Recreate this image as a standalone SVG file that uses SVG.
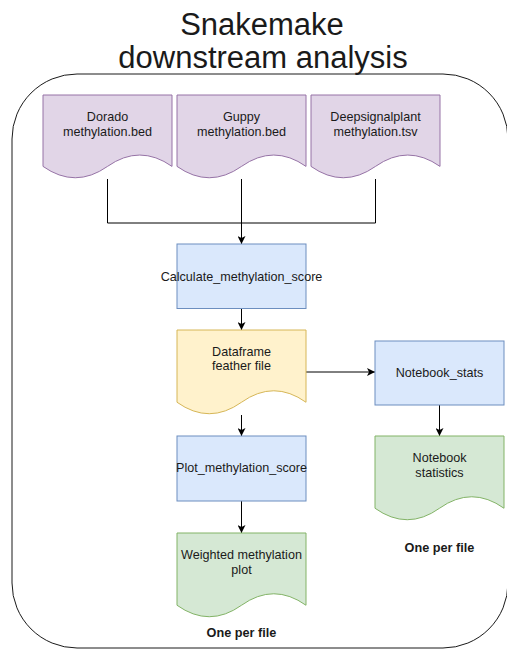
<svg xmlns="http://www.w3.org/2000/svg" width="507" height="650" viewBox="0 0 507 650">
<style>
text{font-family:"Liberation Sans",Arial,sans-serif;fill:#1a1a1a;text-anchor:middle}
.lbl{font-size:12.6px}
.bold{font-size:12.7px;font-weight:bold}
.title{font-size:31px}
.purple{fill:#e1d5e7;stroke:#9673a6;stroke-width:1}
.blue{fill:#dae8fc;stroke:#6c8ebf;stroke-width:1}
.yellow{fill:#fff2cc;stroke:#d6b656;stroke-width:1}
.green{fill:#d5e8d4;stroke:#82b366;stroke-width:1}
.edge{fill:none;stroke:#000;stroke-width:1}
.arr{marker-end:url(#ah)}
</style>
<defs>
<marker id="ah" viewBox="0 0 10 10" refX="10" refY="5" markerWidth="8" markerHeight="8" orient="auto" markerUnits="userSpaceOnUse">
<path d="M0,0 L10,5 L0,10 L2.5,5 Z" fill="#000"/>
</marker>
</defs>
<rect width="507" height="650" fill="#fff"/>
<g id="container">
<rect x="12" y="74" width="496" height="574" rx="65" ry="65" fill="none" stroke="#1a1a1a" stroke-width="1"/>
<text class="title" x="262" y="35">Snakemake</text>
<text class="title" x="263" y="68">downstream analysis</text>
</g>
<g id="connectors">
<path class="edge" d="M107.5,179 V223 H241.5 V244"/>
<path class="edge" d="M375.5,179 V223 H241.5 V244"/>
<path class="edge arr" d="M241.5,179 V244"/>
<path class="edge arr" d="M241.5,308.5 V330"/>
<path class="edge arr" d="M306,372 H375"/>
<path class="edge arr" d="M241.5,415 V436"/>
<path class="edge arr" d="M439.5,405 V436"/>
<path class="edge arr" d="M241.5,501 V533"/>
</g>
<g id="dorado">
<path class="purple" d="M43,95 H172 V166.4 Q139.75,143.7 107.5,166.4 Q75.25,189.1 43,166.4 Z"/>
<text class="lbl" x="107.5" y="120.5">Dorado</text>
<text class="lbl" x="107.5" y="135.5">methylation.bed</text>
</g>
<g id="guppy">
<path class="purple" d="M177,95 H306 V166.4 Q273.75,143.7 241.5,166.4 Q209.25,189.1 177,166.4 Z"/>
<text class="lbl" x="241.5" y="120.5">Guppy</text>
<text class="lbl" x="241.5" y="135.5">methylation.bed</text>
</g>
<g id="deepsignalplant">
<path class="purple" d="M311,95 H440 V166.4 Q407.75,143.7 375.5,166.4 Q343.25,189.1 311,166.4 Z"/>
<text class="lbl" x="375.5" y="120.5">Deepsignalplant</text>
<text class="lbl" x="375.5" y="135.5">methylation.tsv</text>
</g>
<g id="calculate">
<rect class="blue" x="177" y="244" width="129" height="64.5"/>
<text class="lbl" x="241.5" y="280.5">Calculate_methylation_score</text>
</g>
<g id="dataframe">
<path class="yellow" d="M177,330 H306 V402.25 Q273.75,379.3 241.5,402.25 Q209.25,425.2 177,402.25 Z"/>
<text class="lbl" x="241.5" y="356">Dataframe</text>
<text class="lbl" x="241.5" y="370">feather file</text>
</g>
<g id="notebook_stats">
<rect class="blue" x="375" y="341" width="129" height="64"/>
<text class="lbl" x="439.5" y="377">Notebook_stats</text>
</g>
<g id="plot">
<rect class="blue" x="177" y="436" width="129" height="65"/>
<text class="lbl" x="241.5" y="472">Plot_methylation_score</text>
</g>
<g id="notebook_statistics">
<path class="green" d="M375,436 H504 V508.25 Q471.75,485.3 439.5,508.25 Q407.25,531.2 375,508.25 Z"/>
<text class="lbl" x="439.5" y="461.5">Notebook</text>
<text class="lbl" x="439.5" y="476.5">statistics</text>
<text class="bold" x="439.5" y="551.5">One per file</text>
</g>
<g id="weighted">
<path class="green" d="M177,533 H306 V605.25 Q273.75,582.3 241.5,605.25 Q209.25,628.2 177,605.25 Z"/>
<text class="lbl" x="241.5" y="558.5">Weighted methylation</text>
<text class="lbl" x="241.5" y="573.5">plot</text>
<text class="bold" x="241.5" y="636.5">One per file</text>
</g>
</svg>
